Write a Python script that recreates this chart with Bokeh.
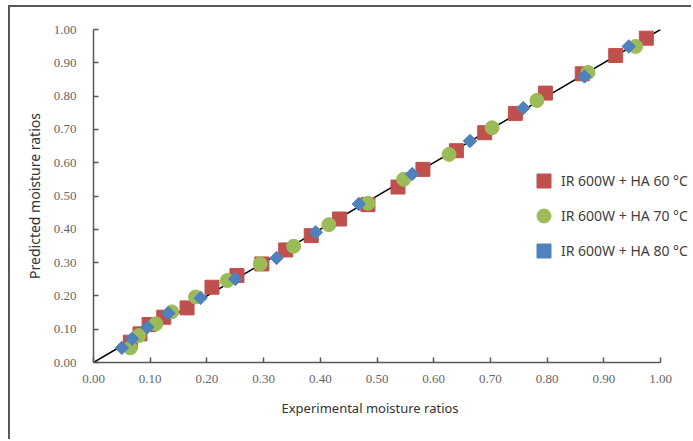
import math
from bokeh.plotting import figure
from bokeh.models import Legend, LegendItem, FixedTicker, Range1d, CustomJSTickFormatter, Title
from bokeh.embed import file_html
from bokeh.resources import INLINE

# ---- data ----
red_x = [0.065, 0.082, 0.098, 0.124, 0.165, 0.209, 0.253, 0.297, 0.339, 0.384, 0.434,
         0.484, 0.537, 0.581, 0.640, 0.690, 0.744, 0.797, 0.862, 0.921, 0.975]
red_y = [0.061, 0.086, 0.114, 0.136, 0.164, 0.226, 0.261, 0.296, 0.338, 0.381, 0.431,
         0.474, 0.527, 0.580, 0.636, 0.690, 0.748, 0.809, 0.867, 0.922, 0.974]
green_x = [0.065, 0.080, 0.110, 0.138, 0.180, 0.236, 0.294, 0.353, 0.415, 0.484, 0.547,
           0.627, 0.703, 0.782, 0.872, 0.956]
green_y = [0.044, 0.081, 0.116, 0.152, 0.197, 0.246, 0.296, 0.349, 0.414, 0.478, 0.550,
           0.625, 0.705, 0.787, 0.871, 0.949]
blue_x = [0.050, 0.068, 0.095, 0.132, 0.189, 0.250, 0.323, 0.392, 0.468, 0.562, 0.664,
          0.758, 0.866, 0.944]
blue_y = [0.044, 0.071, 0.106, 0.148, 0.194, 0.251, 0.314, 0.391, 0.476, 0.566, 0.665,
          0.764, 0.859, 0.949]
line_x = [0.0, 1.0]
line_y = [0.0, 1.0]
ticks = [0.0, 0.1, 0.2, 0.3, 0.4, 0.5, 0.6, 0.7, 0.8, 0.9, 1.0]
labels = ["IR 600W + HA 60 °C", "IR 600W + HA 70 °C", "IR 600W + HA 80 °C"]
x_title = "Experimental moisture ratios"
y_title = "Predicted moisture ratios"

OFF_X, OFF_Y = 10, 7          # position of canvas inside the page (outer chart border)
W, H = 693 - OFF_X, 441 - OFF_Y
LEFT, TOP, BOTTOM = 93 - OFF_X, 29 - OFF_Y, H - (362 - OFF_Y)
frame_w = W - LEFT
x_end = frame_w / 567.0       # 1.00 lands at page x = 660

p = figure(width=W, height=H, output_backend="svg", toolbar_location=None,
           x_range=Range1d(0, x_end), y_range=Range1d(0, 1),
           min_border_left=LEFT, min_border_right=0, min_border_top=TOP, min_border_bottom=BOTTOM)
p.margin = (OFF_Y - 2, 0, 0, OFF_X - 2)
p.styles = {"border-left": "2px solid #595959", "border-top": "2px solid #595959"}
p.outline_line_color = None
p.grid.visible = False
p.background_fill_color = "white"
p.border_fill_color = "white"

for ax in (p.xaxis[0], p.yaxis[0]):
    ax.ticker = FixedTicker(ticks=ticks)
    ax.bounds = (0, 1)
    ax.formatter = CustomJSTickFormatter(code="return tick.toFixed(2);")
    ax.axis_line_color = "#595959"
    ax.axis_line_width = 1.5
    ax.major_tick_line_color = "#595959"
    ax.major_tick_line_width = 1.5
    ax.major_tick_in = 5
    ax.major_tick_out = 0
    ax.minor_tick_line_color = None
    ax.major_label_text_font = "Liberation Serif"
    ax.major_label_text_font_size = "13px"
    ax.major_label_text_color = "#666666"
    ax.axis_label_text_font = "Noto Sans"
    ax.axis_label_text_font_style = "normal"
    ax.axis_label_text_color = "#333333"

p.yaxis.axis_label = y_title
p.yaxis.axis_label_text_font_size = "14px"
p.xaxis.major_label_standoff = 12
p.yaxis.major_label_standoff = 17
p.yaxis.axis_label_standoff = 7

xt = Title(text=x_title, align="left", offset=188, text_font="Noto Sans",
           text_font_size="13px", text_font_style="normal", text_color="#333333", standoff=23)
p.add_layout(xt, "below")

p.line(line_x, line_y, line_color="black", line_width=1.5)

r1 = p.scatter(red_x, red_y, marker="square", size=14, fill_color="#C0504D", line_color="#C0504D")
r2 = p.scatter(green_x, green_y, marker="circle", size=14, fill_color="#9BBB59", line_color="#9BBB59")
r3 = p.scatter(blue_x, blue_y, marker="square", size=9.5, angle=math.pi / 4,
               fill_color="#4F81BD", line_color="#4F81BD")

legend = Legend(items=[LegendItem(label=labels[0], renderers=[r1]),
                       LegendItem(label=labels[1], renderers=[r2]),
                       LegendItem(label=labels[2], renderers=[r3])],
                location=(433, 94), orientation="vertical")
legend.background_fill_alpha = 0
legend.border_line_color = None
legend.label_text_font = "Noto Sans"
legend.label_text_font_size = "14px"
legend.label_text_color = "#404040"
legend.glyph_width = 35
legend.glyph_height = 35
legend.label_height = 20
legend.spacing = -8
legend.label_standoff = 0
legend.padding = 0
legend.margin = 0
p.add_layout(legend, "center")

open("out.html", "w").write(file_html(p, INLINE))
